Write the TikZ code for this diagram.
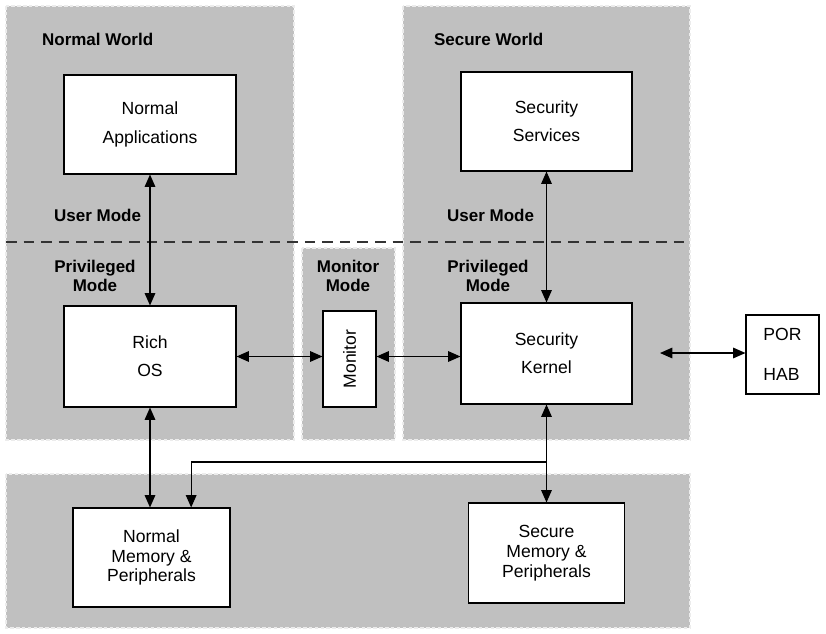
\documentclass[tikz,border=0pt]{standalone}
\usepackage{fontspec}
\setmainfont{Liberation Sans}
\usepackage{tikz}
\usetikzlibrary{arrows.meta}
\usetikzlibrary{positioning}
\definecolor{panelgray}{RGB}{192,192,192}
\tikzstyle{panel} = [fill=panelgray, draw=white!70!panelgray, line width=1pt,
    dash pattern=on 3pt off 2pt]
\tikzstyle{block} = [rectangle, draw, fill=white, line width=0.9pt, inner sep=0pt,
    align=center, font=\fontsize{15}{24}\selectfont]
\tikzstyle{title} = [font=\fontsize{14.5}{15.5}\selectfont\bfseries, align=center]
\tikzstyle{line} = [draw, line width=1pt, {Triangle[length=10.5pt,width=9pt]}-{Triangle[length=10.5pt,width=9pt]}]
\tikzstyle{oneway} = [draw, line width=1pt, -{Triangle[length=10.5pt,width=9pt]}]

\begin{document}
\begin{tikzpicture}[x=0.03cm, y=-0.03cm]
  \useasboundingbox (0,0) rectangle (826,633);

  % Background panels
  \draw [panel] (6,6) rectangle (294,440);
  \draw [panel] (302,248) rectangle (395,440);
  \draw [panel] (403,6) rectangle (690,440);
  \draw [panel] (6,474) rectangle (690,628);
  \draw [line width=1pt, black!80, dash pattern=on 9pt off 6pt] (6,242) -- (690,242);

  % Place labels
  \node [title, anchor=west] (nwtitle) at (38,39) {Normal World};
  \node [title, anchor=west] (swtitle) at (430,39) {Secure World};
  \node [title, anchor=west] (nwuser) at (50,215) {User Mode};
  \node [title, anchor=west] (swuser) at (443,215) {User Mode};
  \node [title] (nwpriv) at (95,276) {Privileged\\Mode};
  \node [title] (monmode) at (348,276) {Monitor\\Mode};
  \node [title] (swpriv) at (488,276) {Privileged\\Mode};

  % Place nodes
  \node [block, minimum width=5.16cm, minimum height=2.97cm] (apps) at (150,124.5) {Normal\\Applications};
  \node [block, minimum width=5.16cm, minimum height=3.03cm] (richos) at (150,356.5) {Rich\\OS};
  \node [block, minimum width=1.59cm, minimum height=2.88cm] (monitor) at (349.5,359) {\rotatebox{90}{Monitor}};
  \node [block, minimum width=5.13cm, minimum height=2.97cm] (services) at (546.5,121.5) {Security\\Services};
  \node [block, minimum width=5.13cm, minimum height=3.03cm] (kernel) at (546.5,353.5) {Security\\Kernel};
  \node [block, minimum width=2.19cm, minimum height=2.37cm, align=left,
         font=\fontsize{15}{34}\selectfont] (porhab) at (782.5,354.5) {POR\\HAB};
  \node [block, minimum width=4.71cm, minimum height=2.97cm,
         font=\fontsize{15}{17}\selectfont] (nmem) at (151.5,557.5) {Normal\\Memory \&\\Peripherals};
  \node [block, minimum width=4.68cm, minimum height=3.0cm,
         font=\fontsize{15}{17}\selectfont] (smem) at (546.5,553) {Secure\\Memory \&\\Peripherals};
  \coordinate (porend) at (660,353);
  \coordinate (split) at (546.5,462);

  % Draw edges
  \path [line] (apps) -- (richos);
  \path [line] (services) -- (kernel);
  \path [line] (richos.east) -- (richos.east -| monitor.west);
  \path [line] (monitor.east |- richos.east) -- (richos.east -| kernel.west);
  \path [line] (porend) -- (porend -| porhab.west);
  \path [line] (richos.south) -- (richos.south |- nmem.north);
  \path [line] (kernel.south) -- (kernel.south |- smem.north);
  \path [oneway] (split) -| ([xshift=1.19cm]nmem.north);
\end{tikzpicture}
\end{document}
